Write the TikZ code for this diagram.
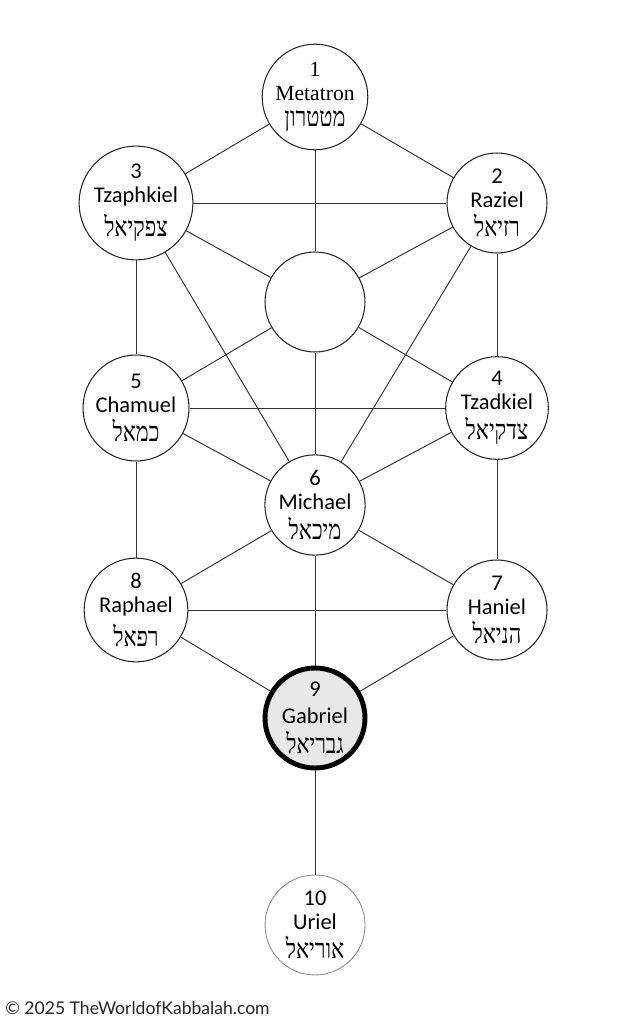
\documentclass[tikz,border=0pt]{standalone}
\usepackage{fontspec}
\setmainfont{Carlito}
\newfontfamily\hebfont[Script=Hebrew, FakeStretch=0.8]{Liberation Serif}
\newfontfamily\serfont{Liberation Serif}
\newfontfamily\credfont{Lato}
\TeXXeTstate=1
\newcommand{\heb}[1]{{\hebfont\fontsize{15.5}{16}\selectfont\beginR #1\endR}}

\begin{document}
\begin{tikzpicture}[x=0.02cm, y=-0.02cm,
    sefira/.style={circle, draw=black!85, line width=0.6pt, fill=white,
        minimum size=2cm, inner sep=0pt, align=center,
        font=\fontsize{12.8}{13.6}\selectfont},
    path/.style={draw=black!80, line width=0.55pt}]

\useasboundingbox (0,0) rectangle (633,1024);

% the angels
\node[sefira, font=\serfont\fontsize{12.3}{13.6}\selectfont] (m1) at (315,97) {1\\Metatron\\[1.5pt]\heb{מטטרון}};
\node[sefira] (m2) at (497,203) {2\\Raziel\\[3.4pt]\heb{רזיאל}};
\node[sefira] (m3) at (136,203) {3\\Tzaphkiel\\[3.4pt]\heb{צפקיאל}};
\node[sefira] (da) at (315,302) {};
\node[sefira] (m4) at (497,408) {4\\Tzadkiel\\[3.4pt]\heb{צדקיאל}};
\node[sefira] (m5) at (136,408) {5\\Chamuel\\[3.4pt]\heb{כמאל}};
\node[sefira] (m6) at (315,505) {6\\Michael\\[3.4pt]\heb{מיכאל}};
\node[sefira] (m7) at (497,610) {7\\Haniel\\[3.4pt]\heb{הניאל}};
\node[sefira] (m8) at (136,610) {8\\Raphael\\[3.4pt]\heb{רפאל}};
\node[sefira, line width=2.8pt, draw=black, fill=black!9] (m9) at (315,718) {9\\[2pt]Gabriel\\[3.4pt]\heb{גבריאל}};
\node[sefira, draw=black!45, line width=0.5pt] (m10) at (315,925) {10\\Uriel\\[3.4pt]\heb{אוריאל}};

% paths between them
\foreach \a/\b in {m1/m2, m1/m3, m1/da, m3/m2, m3/m5, m2/m4, m3/da, m2/da,
    m3/m6, m2/m6, da/m5, da/m4, da/m6, m5/m4, m5/m6, m4/m6, m5/m8, m4/m7,
    m6/m8, m6/m7, m6/m9, m8/m7, m8/m9, m7/m9, m9/m10}
    \path[path] (\a) -- (\b);

\node[anchor=west, inner sep=0pt, font=\credfont\fontsize{10}{12}\selectfont, text=black!85]
    (cred) at (5,1008) {© 2025 TheWorldofKabbalah.com};

\end{tikzpicture}
\end{document}
